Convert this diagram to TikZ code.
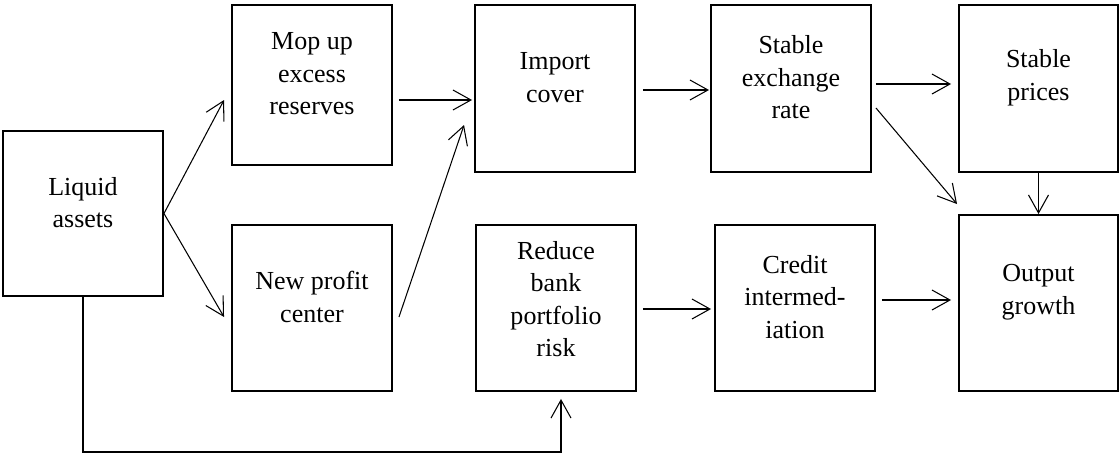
\documentclass[tikz,border=0pt]{standalone}
\usepackage{fontspec}
\setmainfont{Liberation Serif}
\usepackage{tikz}
\usetikzlibrary{positioning,arrows.meta,calc}

\begin{document}
\begin{tikzpicture}[>={Straight Barb[length=3.6mm,width=4mm]},
  box/.style={draw, line width=1.1pt, minimum width=3.2cm, inner sep=0pt},
  lbl/.style={align=center, inner sep=0pt, font=\fontsize{14.8}{18.5}\selectfont},
  link/.style={->, line width=0.6pt}]

\useasboundingbox (0,0) rectangle (22.4,-9.12);

\node[box, minimum height=3.3cm] (liq) at (1.66,-4.27) {};
\node[box, minimum height=3.2cm] (mop) at (6.24,-1.70) {};
\node[box, minimum height=3.32cm] (npc) at (6.24,-6.16) {};
\node[box, minimum height=3.34cm] (imp) at (11.10,-1.77) {};
\node[box, minimum height=3.32cm] (red) at (11.12,-6.16) {};
\node[box, minimum height=3.34cm] (ser) at (15.82,-1.77) {};
\node[box, minimum height=3.32cm] (cred) at (15.90,-6.16) {};
\node[box, minimum height=3.34cm, minimum width=3.18cm] (spr) at (20.77,-1.77) {};
\node[box, minimum height=3.52cm, minimum width=3.18cm] (out) at (20.77,-6.06) {};

\node[lbl] (liqt) at ([yshift=0.22cm]liq.center) {Liquid\\assets};
\node[lbl] (mopt) at ([yshift=0.22cm]mop.center) {Mop up\\excess\\reserves};
\node[lbl] (npct) at ([yshift=0.22cm]npc.center) {New profit\\center};
\node[lbl] (impt) at ([yshift=0.22cm]imp.center) {Import\\cover};
\node[lbl] (redt) at ([yshift=0.18cm]red.center) {Reduce\\bank\\portfolio\\risk};
\node[lbl] (sert) at ([yshift=0.22cm]ser.center) {Stable\\exchange\\rate};
\node[lbl] (credt) at ([yshift=0.22cm]cred.center) {Credit\\intermed-\\iation};
\node[lbl] (sprt) at ([yshift=0.22cm]spr.center) {Stable\\prices};
\node[lbl] (outt) at ([yshift=0.22cm]out.center) {Output\\growth};

\draw[link] (liq.east) -- ([shift={(-0.14,-0.3)}]mop.west);
\draw[link] (liq.east) -- ([shift={(-0.14,-0.18)}]npc.west);
\draw[link] ([shift={(0.12,-0.3)}]mop.east) -- ([shift={(-0.04,-0.23)}]imp.west);
\draw[link] ([shift={(0.12,-0.18)}]npc.east) -- ([shift={(-0.2,-0.73)}]imp.west);
\draw[link] ([shift={(0.14,-0.03)}]imp.east) -- ([shift={(-0.02,-0.03)}]ser.west);
\draw[link] ([shift={(0.08,0.09)}]ser.east) -- ([shift={(-0.14,0.09)}]spr.west);
\draw[link] ([shift={(0.08,-0.39)}]ser.east) -- ([shift={(-0.02,0.2)}]out.north west);
\draw[link] (spr.south) -- (out.north);
\draw[link] ([shift={(0.12,-0.02)}]red.east) -- ([shift={(-0.06,-0.02)}]cred.west);
\draw[link] ([shift={(0.12,0.16)}]cred.east) -- ([shift={(-0.14,0.06)}]out.west);
\draw[link] (liq.south) -- ++(0,-3.1) -| ([shift={(0.1,-0.14)}]red.south);

\end{tikzpicture}
\end{document}
